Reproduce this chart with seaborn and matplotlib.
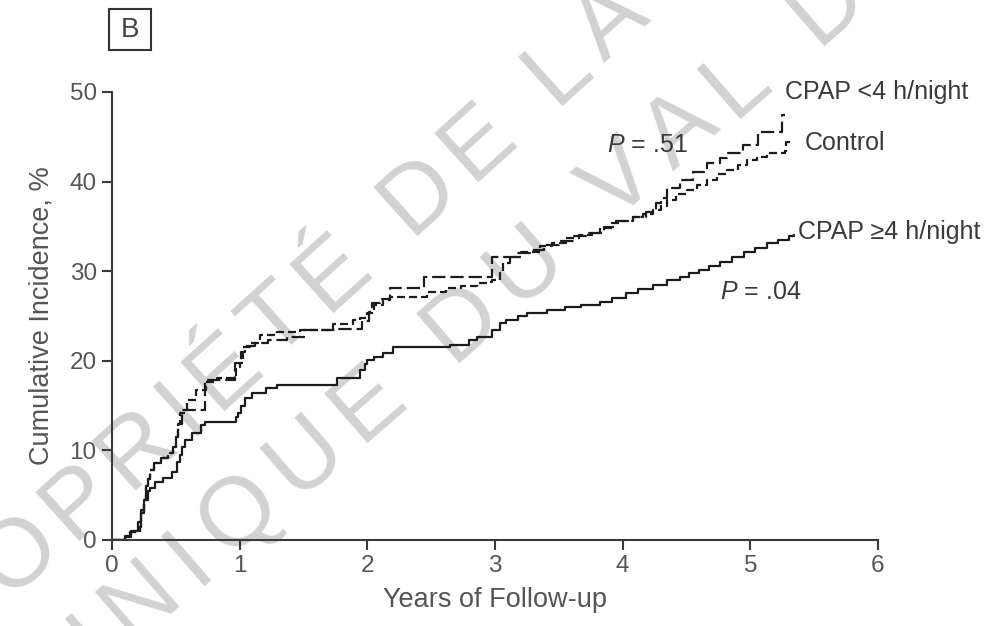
import math
import matplotlib
matplotlib.use("Agg")
import matplotlib.pyplot as plt
import pandas as pd
import seaborn as sns
from matplotlib import font_manager as fm, ft2font
from matplotlib.patches import Rectangle

# Cumulative incidence (%) by years of follow-up, step curves
cpap_lt4_years = [0.00, 0.10, 0.14, 0.22, 0.23, 0.25, 0.27, 0.28, 0.30, 0.33, 0.38, 0.44, 0.48, 0.50,
                  0.52, 0.55, 0.73, 0.96, 1.01, 1.04, 1.12, 1.22, 1.37, 1.50, 1.76, 1.96, 2.01, 2.04,
                  2.10, 2.18, 2.44, 2.98, 3.17, 3.28, 3.38, 3.50, 3.62, 3.74, 3.85, 3.95, 4.08, 4.18,
                  4.26, 4.30, 4.35, 4.45, 4.55, 4.66, 4.76, 4.82, 4.94, 5.06, 5.25, 5.27]
cpap_lt4_pct = [0.0, 0.4, 0.9, 1.5, 3.0, 4.5, 6.0, 6.8, 7.8, 8.6, 9.2, 9.7, 10.4, 11.5,
                13.0, 14.5, 17.9, 19.8, 21.0, 21.6, 22.0, 22.3, 22.7, 23.4, 23.6, 24.4, 25.5, 26.4,
                26.9, 28.1, 29.4, 31.6, 32.0, 32.4, 32.9, 33.4, 33.9, 34.3, 34.9, 35.6, 36.1, 36.6,
                37.6, 38.2, 39.3, 40.2, 41.1, 42.1, 42.6, 43.2, 44.1, 45.5, 47.4, 47.4]

control_years = [0.00, 0.10, 0.14, 0.22, 0.23, 0.25, 0.27, 0.28, 0.30, 0.33, 0.38, 0.44, 0.48, 0.50,
                 0.52, 0.53, 0.59, 0.66, 0.74, 0.82, 0.97, 1.00, 1.03, 1.08, 1.16, 1.29, 1.47, 1.73,
                 1.89, 1.94, 2.00, 2.05, 2.12, 2.18, 2.47, 2.62, 2.73, 2.86, 2.94, 2.98, 3.04, 3.06,
                 3.12, 3.20, 3.35, 3.45, 3.56, 3.66, 3.76, 3.82, 3.92, 3.98, 4.08, 4.16, 4.24, 4.30,
                 4.35, 4.42, 4.50, 4.58, 4.66, 4.74, 4.82, 4.90, 4.97, 5.05, 5.13, 5.27, 5.28, 5.34]
control_pct = [0.0, 0.4, 0.9, 1.5, 3.0, 4.5, 6.0, 6.8, 7.8, 8.6, 9.2, 9.7, 10.4, 11.5,
               13.0, 14.2, 15.6, 16.7, 17.6, 18.1, 19.3, 19.8, 21.5, 22.0, 22.9, 23.2, 23.4, 24.1,
               24.6, 24.8, 25.3, 26.2, 26.8, 27.1, 27.7, 28.1, 28.3, 28.7, 28.8, 29.0, 29.8, 30.9,
               31.6, 32.1, 32.8, 33.2, 33.7, 34.0, 34.3, 34.8, 35.4, 35.6, 36.0, 36.4, 36.8, 37.3,
               38.0, 38.6, 39.1, 39.6, 40.2, 40.8, 41.3, 41.9, 42.4, 42.8, 43.2, 43.4, 44.4, 44.4]

cpap_ge4_years = [0.00, 0.10, 0.15, 0.20, 0.23, 0.25, 0.28, 0.30, 0.34, 0.40, 0.47, 0.51, 0.53, 0.55,
                  0.57, 0.63, 0.70, 0.73, 0.97, 0.99, 1.01, 1.04, 1.10, 1.21, 1.29, 1.76, 1.94, 1.98,
                  2.00, 2.05, 2.12, 2.20, 2.65, 2.80, 2.86, 2.98, 3.04, 3.09, 3.18, 3.25, 3.41, 3.55,
                  3.67, 3.82, 3.92, 4.03, 4.12, 4.24, 4.35, 4.45, 4.52, 4.60, 4.68, 4.76, 4.86, 4.95,
                  5.04, 5.13, 5.22, 5.30, 5.34]
cpap_ge4_pct = [0.0, 0.3, 1.0, 2.0, 3.3, 4.5, 5.5, 5.8, 6.5, 6.9, 7.6, 8.7, 9.5, 10.4,
                11.2, 11.9, 12.8, 13.2, 13.7, 14.2, 15.0, 15.8, 16.4, 17.0, 17.3, 18.1, 19.0, 19.6,
                20.1, 20.4, 20.9, 21.5, 21.8, 22.3, 22.7, 23.4, 24.2, 24.6, 25.0, 25.3, 25.7, 26.0,
                26.2, 26.6, 27.0, 27.6, 28.0, 28.5, 29.0, 29.4, 29.8, 30.1, 30.6, 31.0, 31.6, 32.1,
                32.6, 33.1, 33.5, 33.9, 34.0]

group_names = ["CPAP <4 h/night", "Control", "CPAP \u22654 h/night"]
x_ticks = [0, 1, 2, 3, 4, 5, 6]
y_ticks = [0, 10, 20, 30, 40, 50]

frames = []
for name, yrs, pct in zip(group_names,
                          [cpap_lt4_years, control_years, cpap_ge4_years],
                          [cpap_lt4_pct, control_pct, cpap_ge4_pct]):
    frames.append(pd.DataFrame({"years": yrs, "pct": pct, "group": name}))
df = pd.concat(frames, ignore_index=True)

sns.set_theme(style="white")
plt.rcParams["font.family"] = ["Liberation Sans", "DejaVu Sans"]
plt.rcParams["mathtext.fontset"] = "custom"
plt.rcParams["mathtext.it"] = "Liberation Sans:italic"
plt.rcParams["mathtext.rm"] = "Liberation Sans"

W, H = 992, 626
fig = plt.figure(figsize=(W / 100, H / 100), dpi=100)
fig.patch.set_facecolor("white")
ax = fig.add_axes([112 / W, 1 - 540 / H, (878 - 112) / W, (540 - 92) / H])
ax.set_zorder(1)
ax.patch.set_alpha(0)

ink = "#1c1c1c"
sns.lineplot(data=df, x="years", y="pct", hue="group", style="group",
             palette={g: ink for g in group_names},
             dashes={group_names[0]: (6, 2.2), group_names[1]: (3.6, 1.8), group_names[2]: ""},
             estimator=None, sort=False, drawstyle="steps-post", linewidth=1.6,
             legend=False, ax=ax)

ax.set_xlim(0, 6)
ax.set_ylim(0, 50)
ax.set_xticks(x_ticks)
ax.set_yticks(y_ticks)
ax.set_xticklabels([str(v) for v in x_ticks])
ax.set_yticklabels([str(v) for v in y_ticks])
for side in ("top", "right"):
    ax.spines[side].set_visible(False)
for side in ("left", "bottom"):
    ax.spines[side].set_color("#3a3a3a")
    ax.spines[side].set_linewidth(1.5)
ax.tick_params(axis="both", which="major", direction="out", length=7, width=1.5,
               color="#3a3a3a", labelcolor="#555555", labelsize=17.5, pad=4,
               bottom=True, left=True)
ax.set_xlabel("Years of Follow-up", fontsize=19.5, color="#555555", labelpad=7)
ax.set_ylabel("Cumulative Incidence, %", fontsize=19.5, color="#555555", labelpad=11)

# Curve labels and P values
lab_kw = dict(fontsize=18, color="#3a3a3a", va="center", ha="left")
ax.text(5.27, 50.0, group_names[0], clip_on=False, **lab_kw)
ax.text(5.43, 44.3, group_names[1], clip_on=False, **lab_kw)
ax.text(5.37, 34.4, group_names[2], clip_on=False, **lab_kw)
ax.text(3.88, 44.1, r"$P$ = .51", clip_on=False, **lab_kw)
ax.text(4.76, 27.7, r"$P$ = .04", clip_on=False, **lab_kw)

# Panel letter in a box
fig.text(130 / W, 1 - 30 / H, "B", fontsize=20, color="#444444", ha="center", va="center")
fig.patches.append(Rectangle((109 / W, 1 - 50 / H), 42 / W, 41 / H, transform=fig.transFigure,
                             fill=False, edgecolor="#333333", linewidth=1.5))

# Ownership watermark: letter-spaced diagonal text, laid out glyph by glyph
WM_PT = 70
wm_font = ft2font.FT2Font(fm.findfont(fm.FontProperties(family="Liberation Sans")))
wm_font.set_size(WM_PT, 100)


def advance(ch):
    return wm_font.load_char(ord(ch)).linearHoriAdvance / 65536.0


def spaced_line(text, angle, ref_index, ref_center, tracking):
    """Place each glyph of `text` along a slanted line (pixel coords, y down)."""
    th = math.radians(angle)
    ux, uy = math.cos(th), -math.sin(th)      # along the line
    dx, dy = math.sin(th), math.cos(th)       # towards the baseline
    advs = [advance(c) for c in text]
    lefts, pos = [], 0.0
    for a in advs:
        lefts.append(pos)
        pos += a + tracking
    ref_mid = lefts[ref_index] + advs[ref_index] / 2
    cap_half = 0.358 * WM_PT * 100 / 72
    for c, left in zip(text, lefts):
        if c == " ":
            continue
        s = left - ref_mid
        px = ref_center[0] + s * ux + cap_half * dx
        py = ref_center[1] + s * uy + cap_half * dy
        fig.text(px / W, 1 - py / H, c, fontsize=WM_PT, color="#d2d2d2",
                 rotation=angle, rotation_mode="anchor", ha="left", va="baseline",
                 zorder=0)


spaced_line("PROPRI\u00c9T\u00c9 DE LA", 42, 4, (131, 441), 11)
spaced_line("CLINIQUE DU VAL D'OR", 41, 5, (233, 507), 15)

fig.savefig("out.png", dpi=100, facecolor="white")
